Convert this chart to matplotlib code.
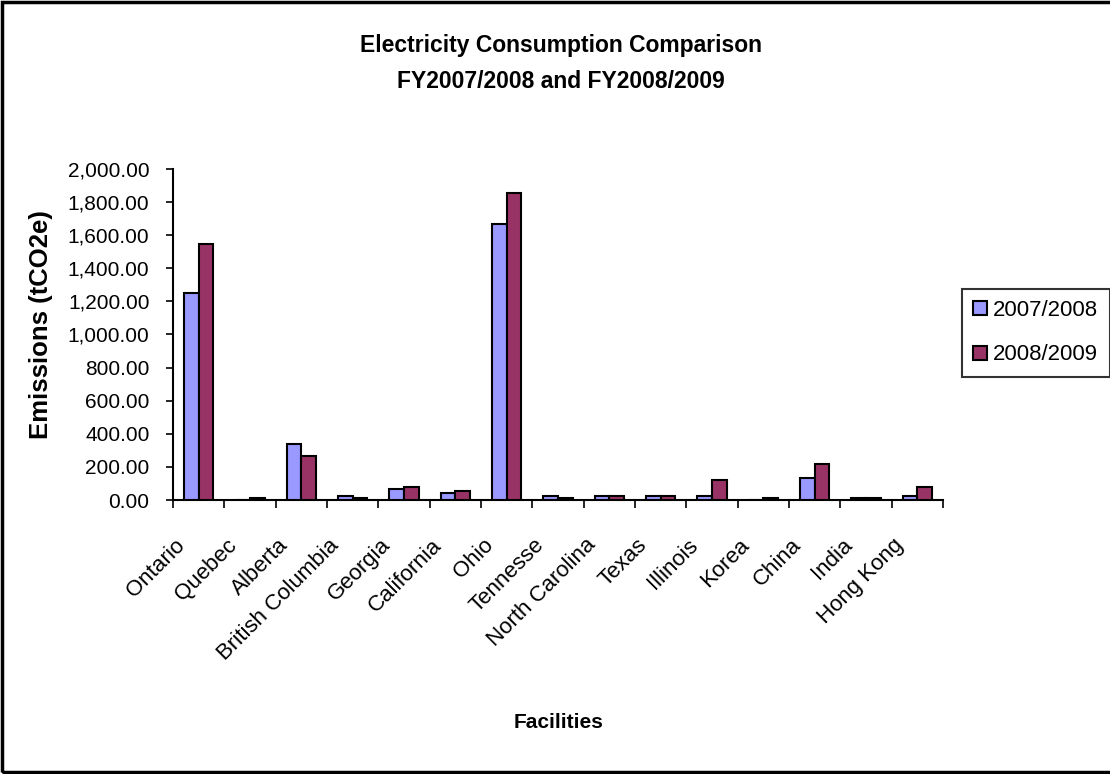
import matplotlib.pyplot as plt
from matplotlib.patches import Rectangle
from matplotlib.ticker import FuncFormatter
from matplotlib.transforms import ScaledTranslation
import numpy as np

plt.rcParams['font.family'] = ['Liberation Sans', 'DejaVu Sans']

facilities = ["Ontario", "Quebec", "Alberta", "British Columbia", "Georgia",
              "California", "Ohio", "Tennesse", "North Carolina", "Texas",
              "Illinois", "Korea", "China", "India", "Hong Kong"]
fy0708 = [1250, 0, 337, 26, 66, 40, 1668, 26, 26, 26, 26, 0, 135, 10, 26]
fy0809 = [1545, 10, 268, 10, 80, 56, 1855, 10, 26, 26, 121, 10, 216, 10, 80]
series = ["2007/2008", "2008/2009"]

fig = plt.figure(figsize=(11.1, 7.74), dpi=100)
ax = fig.add_axes([0.1559, 0.354, 0.6936, 0.4277])

x = np.arange(len(facilities))
w = 1 / 3.5  # gap width 150%
ax.bar(x - w / 2, fy0708, w, color="#9999FF", edgecolor="black", linewidth=1.5,
       label=series[0], zorder=3)
ax.bar(x + w / 2, fy0809, w, color="#993366", edgecolor="black", linewidth=1.5,
       label=series[1], zorder=3)

ax.set_xlim(-0.5, len(facilities) - 0.5)
ax.set_ylim(0, 2000)
ax.set_yticks(np.arange(0, 2001, 200))
ax.yaxis.set_major_formatter(FuncFormatter(lambda v, p: "{:,.2f}".format(v)))
ax.tick_params(axis="y", labelsize=15, length=5, width=1.2, pad=12)

# ticks sit between categories; names are hung under the category centres
ax.set_xticks(np.arange(-0.5, len(facilities), 1))
ax.set_xticklabels([])
ax.tick_params(axis="x", length=6, width=1.2)
shift = ax.get_xaxis_transform() + ScaledTranslation(-0.167, -0.42, fig.dpi_scale_trans)
for i, name in enumerate(facilities):
    ax.text(i, 0, name, transform=shift, rotation=45, ha="right", va="center",
            rotation_mode="anchor", fontsize=16)

for s in ["top", "right"]:
    ax.spines[s].set_visible(False)
for s in ["left", "bottom"]:
    ax.spines[s].set_linewidth(1.5)

ax.set_ylabel("Emissions (tCO2e)", fontsize=18.5, fontweight="bold")
ax.yaxis.set_label_coords(-0.156, 0.53)
fig.text(0.503, 0.066, "Facilities", ha="center", va="center", fontsize=15,
         fontweight="bold")
fig.text(0.505, 0.941, "Electricity Consumption Comparison", ha="center",
         va="center", fontsize=16.5, fontweight="bold")
fig.text(0.505, 0.895, "FY2007/2008 and FY2008/2009", ha="center",
         va="center", fontsize=16.5, fontweight="bold")

leg = ax.legend(loc="center left", bbox_to_anchor=(1.025, 0.505), fontsize=16,
                frameon=True, fancybox=False, edgecolor="black",
                handlelength=0.6, handleheight=0.6, handletextpad=0.3,
                labelspacing=1.05, borderpad=0.5, borderaxespad=0)
leg.get_frame().set_linewidth(1.5)

fig.patches.append(Rectangle((0.002, 0.003), 1.1, 0.995, transform=fig.transFigure,
                             fill=False, edgecolor="black", linewidth=2.5))

fig.savefig("out.png", dpi=100)
